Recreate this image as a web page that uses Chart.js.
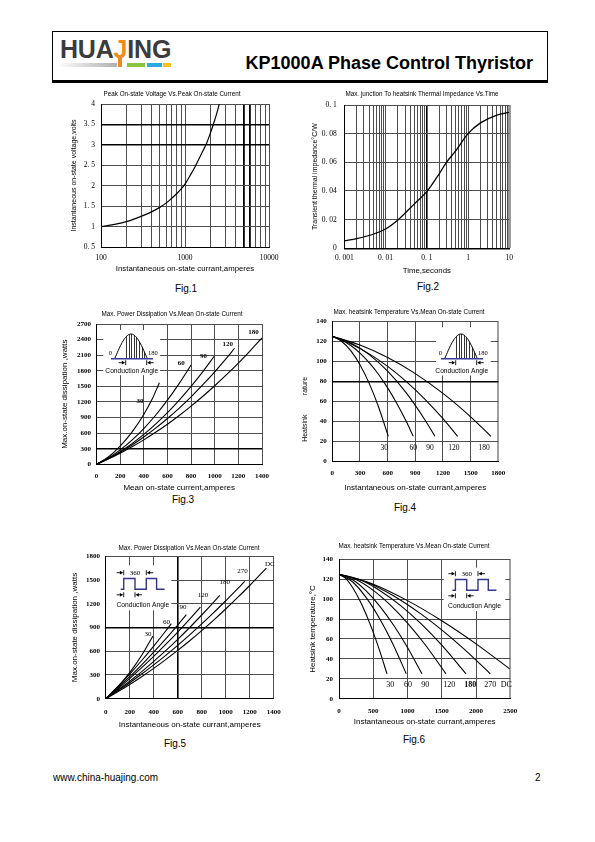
<!DOCTYPE html>
<html><head><meta charset="utf-8">
<script src="https://cdn.jsdelivr.net/npm/chart.js@4.4.1/dist/chart.umd.min.js"></script>
<style>
html,body{margin:0;padding:0;background:#fff;}
body{width:595px;height:842px;position:relative;overflow:hidden;font-family:'Liberation Sans',Arial,sans-serif;color:#000;}
.a{position:absolute;white-space:nowrap;}
canvas{position:absolute;}
.fig{position:absolute;width:60px;text-align:center;font-size:10px;line-height:10px;}
</style></head><body>
<div class="a" style="left:52px;top:31px;width:494px;height:48px;border:1px solid #000;border-bottom:3px solid #000;"></div>
<div class="a" style="left:60px;top:37px;font-weight:bold;font-size:25px;line-height:25px;color:#3b3b3b;letter-spacing:-0.2px;">HUA<span style="color:#ef8a1e">J</span>ING</div>
<div class="a" style="left:60px;top:63px;width:57px;height:4px;background:linear-gradient(to right,#fafafa,#b0b0b0);"></div>
<div class="a" style="left:118px;top:57px;width:4px;height:10px;background:#ef8a1e;"></div>
<div class="a" style="left:127px;top:63px;width:18px;height:4px;background:#8cc63e;"></div>
<div class="a" style="left:147px;top:63px;width:15px;height:4px;background:#27a9e1;"></div>
<div class="a" style="left:163px;top:63px;width:8px;height:4px;background:#f5c41c;"></div>
<div class="a" style="right:62px;top:54px;font-weight:bold;font-size:18px;line-height:18px;">KP1000A Phase Control Thyristor</div>

<div class="fig" style="left:156px;top:284px">Fig.1</div>
<div class="fig" style="left:398px;top:282px">Fig.2</div>
<div class="fig" style="left:153px;top:495px">Fig.3</div>
<div class="fig" style="left:375px;top:503px">Fig.4</div>
<div class="fig" style="left:145px;top:739px">Fig.5</div>
<div class="fig" style="left:384px;top:735px">Fig.6</div>
<div class="a" style="left:53px;top:773px;font-size:10px;line-height:10px;">www.china-huajing.com</div>
<div class="a" style="left:535px;top:773px;font-size:10px;line-height:10px;">2</div>

<script>
// ================= DATA =================
// Fig.1 Peak on-state voltage vs peak on-state current (log x)
const fig1Current = [100,150,200,300,400,500,600,700,800,900,1000,1150,1314,1550,1808,2000,2132,2350,2560];
const fig1Voltage = [1.0,1.06,1.12,1.25,1.36,1.47,1.58,1.7,1.81,1.92,2.04,2.25,2.46,2.76,3.04,3.28,3.45,3.72,4.0];
const fig1XTicks = [100,200,300,400,500,600,700,800,900,1000,2000,3000,4000,5000,6000,7000,8000,9000,10000];
const fig1XLabelAt = [100,1000,10000];
const fig1XLabels = ['100','1000','10000'];
const fig1YTicks = [0.5,1,1.5,2,2.5,3,3.5,4];
const fig1YLabels = ['0. 5','1','1. 5','2','2. 5','3','3. 5','4'];

// Fig.2 Transient thermal impedance vs time (log x)
const fig2Time = [0.001,0.002,0.005,0.01,0.02,0.05,0.1,0.2,0.3,0.5,1,2,5,10];
const fig2Z = [0.0053,0.0068,0.0098,0.0135,0.0198,0.031,0.0395,0.052,0.06,0.068,0.08,0.0875,0.093,0.0948];
const fig2XTicks = [0.001,0.002,0.003,0.004,0.005,0.006,0.007,0.008,0.009,0.01,0.02,0.03,0.04,0.05,0.06,0.07,0.08,0.09,0.1,0.2,0.3,0.4,0.5,0.6,0.7,0.8,0.9,1,2,3,4,5,6,7,8,9,10];
const fig2XLabelAt = [0.001,0.01,0.1,1,10];
const fig2XLabels = ['0. 001','0. 01','0. 1','1','10'];
const fig2YTicks = [0,0.02,0.04,0.06,0.08,0.1];
const fig2YLabels = ['0','0. 02','0. 04','0. 06','0. 08','0. 1'];

// Fig.3 Max power dissipation vs mean on-state current (sine)
const fig3X30 = [0,100,200,300,400,470,532];
const fig3Y30 = [0,140,350,620,960,1250,1570];
const fig3X60 = [0,100,200,300,400,500,600,700,800];
const fig3Y60 = [0,120,277,466,688,944,1234,1557,1910];
const fig3X90 = [0,100,200,300,400,500,600,700,800,900,996];
const fig3Y90 = [0,111,244,398,575,773,993,1236,1500,1785,2080];
const fig3X120 = [0,100,200,300,400,500,600,700,800,900,1000,1100,1168];
const fig3Y120 = [0,108,231,370,525,695,881,1082,1299,1532,1780,2044,2233];
const fig3X180 = [0,100,200,300,400,500,600,700,800,900,1000,1100,1200,1300,1400];
const fig3Y180 = [0,101,212,336,470,616,772,940,1120,1310,1512,1725,1949,2185,2432];
const fig3XTicks = [0,200,400,600,800,1000,1200,1400];
const fig3YTicks = [0,300,600,900,1200,1500,1800,2100,2400,2700];
const fig3SeriesNames = ['30','60','90','120','180'];
const fig3NameX = [368,716,905,1111,1329];
const fig3NameY = [1216,1945,2080,2303,2540];

// Fig.4 Max heatsink temperature vs current (sine)
const fig4X30 = [0,100,200,300,400,500,607];
const fig4Y30 = [125,120.1,110.6,96.5,77.9,54.8,25];
const fig4X60 = [0,100,200,300,400,500,600,700,800,878];
const fig4Y60 = [125,121.4,115.8,108.2,98.6,87,73.4,57.8,40.2,25];
const fig4X90 = [0,200,400,600,800,1000,1113];
const fig4Y90 = [125,118.3,106.7,90.1,68.6,42.1,25];
const fig4X120 = [0,200,400,600,800,1000,1200,1359];
const fig4Y120 = [125,117.5,107.4,94.9,80,62.5,42.7,25];
const fig4X180 = [0,300,600,900,1200,1500,1720];
const fig4Y180 = [125,116.2,103.8,87.7,67.9,44.5,25];
const fig4XTicks = [0,300,600,900,1200,1500,1800];
const fig4YTicks = [0,20,40,60,80,100,120,140];
const fig4SeriesNames = ['30','60','90','120','180'];
const fig4NameX = [564,878,1059,1319,1645];
const fig4NameY = [13,13,13,13,13];

// Fig.5 Max power dissipation vs current (rectangular)
const fig5X30 = [0,100,200,300,394];
const fig5Y30 = [0,150,330,550,793];
const fig5X60 = [0,100,200,300,400,500,547];
const fig5Y60 = [0,151,312,483,665,856,949];
const fig5X90 = [0,100,200,300,400,500,600,672];
const fig5Y90 = [0,135,278,429,589,756,931,1062];
const fig5X120 = [0,100,200,300,400,500,600,700,789];
const fig5Y120 = [0,123,254,392,535,686,843,1007,1159];
const fig5X180 = [0,100,200,300,400,500,600,700,800,900,950];
const fig5Y180 = [0,107,221,342,472,607,750,900,1058,1222,1307];
const fig5X270 = [0,100,200,300,400,500,600,700,800,900,1000,1100,1158];
const fig5Y270 = [0,99,202,312,428,548,675,807,945,1088,1238,1391,1484];
const fig5XDC = [0,100,200,300,400,500,600,700,800,900,1000,1100,1200,1339];
const fig5YDC = [0,87,180,278,383,494,610,732,860,994,1134,1280,1431,1652];
const fig5XTicks = [0,200,400,600,800,1000,1200,1400];
const fig5YTicks = [0,300,600,900,1200,1500,1800];
const fig5SeriesNames = ['30','60','90','120','180','270','DC'];
const fig5NameX = [353,506,644,811,992,1139,1367];
const fig5NameY = [822,970,1159,1307,1467,1614,1707];

// Fig.6 Max heatsink temperature vs current (rectangular)
const fig6X30 = [0,100,200,300,400,500,600,700];
const fig6Y30 = [125,120.6,111.5,99.2,84.1,66.6,46.8,25];
const fig6X60 = [0,200,400,600,800,982];
const fig6Y60 = [125,117.2,101.2,79.5,53,25];
const fig6X90 = [0,200,400,600,800,1000,1211];
const fig6Y90 = [125,119.4,108,92.5,73.5,51.4,25];
const fig6X120 = [0,250,500,750,1000,1250,1561];
const fig6Y120 = [125,119.7,108.8,94,76,54.9,25];
const fig6X180 = [0,300,600,900,1200,1500,1853];
const fig6Y180 = [125,119.6,108.5,93.5,75.1,53.7,25];
const fig6X270 = [0,400,800,1200,1600,2000,2208];
const fig6Y270 = [125,117.3,103.2,84.9,63.3,38.8,25];
const fig6XDC = [0,500,1000,1500,2000,2490];
const fig6YDC = [125,115,98.5,78.3,55.1,30];
const fig6XTicks = [0,500,1000,1500,2000,2500];
const fig6YTicks = [0,20,40,60,80,100,120,140];
const fig6SeriesNames = ['30','60','90','120','180','270','DC'];
const fig6NameX = [749,1007,1260,1610,1916,2208,2442];
const fig6NameY = [14,14,14,14,14,14,14];

// ================= RENDERING =================
const GRID = '#4d4d4d';
const SERIF = "'Liberation Serif','DejaVu Serif',serif";
const SANS = "'Liberation Sans',Arial,sans-serif";
Chart.defaults.color = '#000';

function pts(xs, ys){ return xs.map((x,i)=>({x:x, y:ys[i]})); }
function curve(xs, ys, w){ return {data:pts(xs,ys), borderColor:'#000', borderWidth:w||1.1, pointRadius:0, fill:false, cubicInterpolationMode:'monotone', yAxisID:'y', xAxisID:'x'}; }
function names(t, xs, ys, font){ return t.map((s,i)=>({t:s, x:xs[i], y:ys[i], font:font})); }
function logLabel(at, lab){ return v => { const k = at.findIndex(l => Math.abs(l - v) <= Math.abs(l)*1e-6); return k < 0 ? '' : lab[k]; }; }
function idxLabel(lab){ return (v,i) => lab[i]; }
function special(map, dflt){ return ctx => { const v = ctx.tick ? ctx.tick.value : null; for (const m of map){ if (v !== null && Math.abs(m[0]-v) <= Math.abs(m[0])*1e-6 + 1e-12) return m[1]; } return dflt; }; }

function arrowBar(ctx, x, y, dir){
  ctx.beginPath(); ctx.moveTo(x, y-2.5); ctx.lineTo(x, y+2.5); ctx.stroke();
  ctx.beginPath(); ctx.moveTo(x - dir*7, y); ctx.lineTo(x - dir*3, y); ctx.stroke();
  ctx.beginPath(); ctx.moveTo(x - dir*0.5, y); ctx.lineTo(x - dir*3.8, y-1.9); ctx.lineTo(x - dir*3.8, y+1.9); ctx.closePath(); ctx.fill();
}
function whiteText(ctx, t, x, y){
  const w = ctx.measureText(t).width;
  ctx.fillStyle = '#fff'; ctx.fillRect(x - w/2 - 1, y - 4.5, w + 2, 9);
  ctx.fillStyle = '#000'; ctx.fillText(t, x, y);
}
function drawSine(ctx, a, o){
  const s = a.left + o.dx, b = a.top + o.dy, w = 32, h = 24;
  ctx.strokeStyle = '#3a3a9a'; ctx.lineWidth = 1.6;
  ctx.beginPath(); ctx.moveTo(s-4, b+0.8); ctx.lineTo(s+w+6, b+0.8); ctx.stroke();
  ctx.strokeStyle = '#000'; ctx.lineWidth = 0.8;
  for (let x = Math.round(s + 11) + 0.5; x < s + w - 0.5; x += 2.6){
    const xx = Math.round(x - 0.5) + 0.5;
    const yy = b - h*Math.sin(Math.PI*(xx-s)/w);
    ctx.beginPath(); ctx.moveTo(xx, b); ctx.lineTo(xx, yy); ctx.stroke();
  }
  ctx.lineWidth = 1; ctx.beginPath();
  for (let i = 0; i <= 40; i++){ const x = s + w*i/40, yy = b - h*Math.sin(Math.PI*i/40); if (i) ctx.lineTo(x, yy); else ctx.moveTo(x, yy); }
  ctx.stroke();
  ctx.fillStyle = '#000'; ctx.font = "6.5px " + SERIF; ctx.textBaseline = 'middle';
  ctx.textAlign = 'right'; ctx.fillText('0', s - 3, b - 5);
  ctx.textAlign = 'left'; ctx.fillText('180', s + w + 1, b - 5);
  ctx.lineWidth = 0.9;
  arrowBar(ctx, s + 10.7, b + 4.7, 1); arrowBar(ctx, s + 31.7, b + 4.7, -1);
  ctx.font = "6.7px " + SANS; ctx.textAlign = 'center';
  whiteText(ctx, 'Conduction Angle', s + 16.7, b + 12.7);
}
function drawSquare(ctx, a, o){
  const s = a.left + o.dx, lo = a.top + o.dy, hi = lo - 10.8;
  const r1 = s + 7.4, f1 = s + 18.7, r2 = s + 30, f2 = s + 40.3, e = s + 48.4;
  ctx.strokeStyle = '#35358a'; ctx.lineWidth = 1.4;
  ctx.beginPath(); ctx.moveTo(r1 - 3, lo);
  [[r1,lo],[r1,hi],[f1,hi],[f1,lo],[r2,lo],[r2,hi],[f2,hi],[f2,lo],[e,lo]].forEach(p => ctx.lineTo(p[0], p[1]));
  ctx.stroke();
  ctx.strokeStyle = '#000'; ctx.fillStyle = '#000'; ctx.lineWidth = 0.9;
  arrowBar(ctx, r1, lo - 16.6, 1); arrowBar(ctx, r2, lo - 16.6, -1);
  arrowBar(ctx, r1, lo + 5.5, 1); arrowBar(ctx, f1, lo + 5.5, -1);
  ctx.font = "7px " + SERIF; ctx.textAlign = 'center'; ctx.textBaseline = 'middle';
  ctx.fillText('360', (r1 + r2)/2, lo - 16.6);
  ctx.font = "6.7px " + SANS;
  ctx.fillText('Conduction Angle', s + 26.5, lo + 16);
}
const deco = {
  id: 'deco',
  beforeDatasetsDraw(chart, args, o){
    const ctx = chart.ctx, a = chart.chartArea;
    ctx.save();
    if (o.box){ ctx.fillStyle = '#fff'; ctx.fillRect(a.left + o.box[0], a.top + o.box[1], o.box[2] - o.box[0], o.box[3] - o.box[1]); }
    if (o.inset === 'sine') drawSine(ctx, a, o);
    if (o.inset === 'square') drawSquare(ctx, a, o);
    ctx.restore();
  },
  afterDatasetsDraw(chart, args, o){
    const ctx = chart.ctx, xs = chart.scales.x, ys = chart.scales.y;
    ctx.save();
    ctx.fillStyle = '#000'; ctx.textAlign = 'center'; ctx.textBaseline = 'middle';
    (o.labels || []).forEach(l => { ctx.font = l.font; ctx.fillText(l.t, xs.getPixelForValue(l.x), ys.getPixelForValue(l.y)); });
    ctx.restore();
  }
};

function build(g){
  const lt = g.tsize*1.2, ly = g.ysize*1.2, lx = g.xsize*1.2, lk = g.ksize*1.2;
  const cl = Math.floor(Math.min(g.ytx - ly/2 - 2, g.ylabR - 26));
  const ct = Math.floor(g.ty - lt/2 - 1);
  const YW = g.pl - cl;
  const Y2W = Math.max(0, YW + 2*(g.tx - (g.pl + g.pr)/2));
  const W = Math.ceil(g.pr + Y2W + Math.max(2, 16 - Y2W) - cl);
  const RP = W - (g.pr - cl) - Y2W;
  const H = Math.ceil(g.xty + lx/2 + 2 - ct);
  const TH = g.pt - ct, XH = H - (g.pb - ct);
  const cv = document.createElement('canvas');
  cv.width = W; cv.height = H;
  cv.style.left = cl + 'px'; cv.style.top = ct + 'px'; cv.style.width = W + 'px'; cv.style.height = H + 'px';
  document.body.appendChild(cv);
  const zero = s => { s.paddingTop = 0; s.paddingBottom = 0; s.paddingLeft = 0; s.paddingRight = 0; };
  const tpt = g.ty - lt/2 - ct;
  return new Chart(cv, {
    type: 'line',
    data: {datasets: g.datasets},
    plugins: [deco],
    options: {
      responsive: false, animation: false, devicePixelRatio: 1,
      layout: {padding: {left: 0, right: RP, top: 0, bottom: 0}, autoPadding: false},
      plugins: {
        legend: {display: false}, tooltip: {enabled: false},
        title: {display: true, text: g.title, color: '#000', font: {family: SANS, size: g.tsize, weight: 'normal', lineHeight: 1.2}, padding: {top: tpt, bottom: TH - lt - tpt}},
        deco: g.deco || {}
      },
      scales: {
        x: {
          type: g.xtype, min: g.xmin, max: g.xmax,
          afterBuildTicks: s => { s.ticks = g.xticks.map(v => ({value: v})); },
          afterFit: s => { s.height = XH; zero(s); },
          grid: {color: g.xgc || GRID, lineWidth: g.xgw || 1, drawTicks: false},
          border: {color: '#000', width: g.xbw || 1},
          ticks: {autoSkip: false, maxRotation: 0, minRotation: 0, padding: g.xlabY - g.pb - lk/2, color: '#000',
                  font: {family: SERIF, size: g.ksize, weight: g.kw || 'normal', lineHeight: 1.2}, callback: g.xcb},
          title: {display: true, text: g.xtitle, color: '#000', font: {family: SANS, size: g.xsize, weight: 'normal', lineHeight: 1.2},
                  padding: {top: 0, bottom: (ct + H) - g.xty - lx/2}}
        },
        y: {
          type: 'linear', position: 'left', min: g.ymin, max: g.ymax,
          afterBuildTicks: s => { s.ticks = g.yticks.map(v => ({value: v})); },
          afterFit: s => { s.width = YW; zero(s); },
          grid: {color: g.ygc || GRID, lineWidth: g.ygw || 1, drawTicks: false},
          border: {color: '#000', width: 1},
          ticks: {autoSkip: false, padding: g.pl - g.ylabR, color: '#000',
                  font: {family: SERIF, size: g.ksize, weight: g.kw || 'normal', lineHeight: 1.2}, callback: g.ycb},
          title: {display: true, text: g.ytitle, align: g.yalign || 'center', color: '#000', font: {family: SANS, size: g.ysize, weight: 'normal', lineHeight: 1.2},
                  padding: {top: g.ytx - cl - ly/2, bottom: 0}}
        },
        yPad: {
          type: 'linear', position: 'right', display: true, min: 0, max: 1,
          grid: {display: false}, border: {display: false}, ticks: {display: false}, title: {display: false},
          afterFit: s => { s.width = Y2W; zero(s); }
        }
      }
    }
  });
}

// ---- Fig.1 ----
build({
  pl:101, pt:104, pr:269, pb:247, tx:172, ty:94, tsize:6.3, ytx:74.5, ysize:7, ylabR:95, xlabY:258.3, ksize:7.5, xty:269.3, xsize:7.8,
  title:'Peak On-state Voltage Vs.Peak On-state Current',
  xtitle:'Instantaneous on-state currant,amperes', ytitle:'Instantaneous on-state voltage,volts',
  xtype:'logarithmic', xmin:100, xmax:10000, xticks:fig1XTicks, xcb:logLabel(fig1XLabelAt, fig1XLabels),
  ymin:0.5, ymax:4, yticks:fig1YTicks, ycb:idxLabel(fig1YLabels),
  xgc: special([[5000,'#000'],[6000,'#000']], GRID), xgw: special([[5000,1.8],[6000,1.8]], 1),
  ygc: special([[3,'#000'],[3.5,'#000']], GRID), ygw: special([[3,1.6],[3.5,1.6]], 1),
  datasets:[curve(fig1Current, fig1Voltage, 1.2)]
});

// ---- Fig.2 ----
build({
  pl:344.3, pt:105, pr:509.3, pb:248.3, tx:422, ty:94.3, tsize:6.3, ytx:315, ysize:7, ylabR:336.7, xlabY:258.3, ksize:7.5, xty:271, xsize:7.8,
  title:'Max. junction To heatsink Thermal Impedance Vs.Time',
  xtitle:'Time,seconds', ytitle:'Transient thermal impedance°C/W',
  xtype:'logarithmic', xmin:0.001, xmax:10, xticks:fig2XTicks, xcb:logLabel(fig2XLabelAt, fig2XLabels),
  ymin:0, ymax:0.1, yticks:fig2YTicks, ycb:idxLabel(fig2YLabels),
  xgc: special([[0.1,'#000'],[10,'#9a9a9a']], GRID), xgw: special([[0.1,1.6],[10,3]], 1), xbw:1.5,
  datasets:[curve(fig2Time, fig2Z, 1.3)]
});

// ---- Fig.3 ----
const f3font = "bold 7px " + SERIF;
build({
  pl:96.5, pt:324, pr:262, pb:464.3, tx:172, ty:314, tsize:6.3, ytx:64.3, ysize:8, ylabR:91, xlabY:475.7, ksize:7, kw:'bold', xty:487.7, xsize:8,
  title:'Max. Power Dissipation Vs.Mean On-state Current',
  xtitle:'Mean on-state current,amperes', ytitle:'Max.on-state dissipation ,watts',
  xtype:'linear', xmin:0, xmax:1400, xticks:fig3XTicks, xcb:(v)=>String(v),
  ymin:0, ymax:2700, yticks:fig3YTicks, ycb:(v)=>String(v),
  ygc: special([[300,'#000']], GRID), ygw: special([[300,1.6]], 1),
  deco:{inset:'sine', dx:18.5, dy:34, box:[6.8,6,63.5,51], labels:names(fig3SeriesNames, fig3NameX, fig3NameY, f3font)},
  datasets:[curve(fig3X30,fig3Y30), curve(fig3X60,fig3Y60), curve(fig3X90,fig3Y90), curve(fig3X120,fig3Y120), curve(fig3X180,fig3Y180)]
});

// ---- Fig.4 ----
const f4font = "7.5px " + SERIF;
build({
  pl:332.3, pt:321.3, pr:498.3, pb:461.3, tx:409, ty:312, tsize:6.3, ytx:305, ysize:7, ylabR:326.7, xlabY:473.3, ksize:7, kw:'bold', xty:487.7, xsize:8,
  title:'Max. heatsink Temperature Vs.Mean On-state Current',
  xtitle:'Instantaneous on-state currant,amperes', ytitle:'          Heatsink          rature', yalign:'start',
  xtype:'linear', xmin:0, xmax:1800, xticks:fig4XTicks, xcb:(v)=>String(v),
  ymin:0, ymax:140, yticks:fig4YTicks, ycb:(v)=>String(v),
  xgc: special([[1800,'#a0a0a0']], GRID), xgw: special([[1800,2]], 1),
  ygc: special([[80,'#000']], GRID), ygw: special([[80,1.6]], 1),
  deco:{inset:'sine', dx:112.7, dy:36.7, box:[103.7,6,158.4,54], labels:names(fig4SeriesNames, fig4NameX, fig4NameY, f4font)},
  datasets:[curve(fig4X30,fig4Y30), curve(fig4X60,fig4Y60), curve(fig4X90,fig4Y90), curve(fig4X120,fig4Y120), curve(fig4X180,fig4Y180)]
});

// ---- Fig.5 ----
const f5font = "7px " + SERIF;
build({
  pl:105.7, pt:556.3, pr:273.7, pb:698.7, tx:189, ty:548, tsize:6.3, ytx:75, ysize:8, ylabR:100, xlabY:711.7, ksize:7, kw:'bold', xty:725, xsize:8,
  title:'Max. Power Dissipation Vs.Mean On-state Current',
  xtitle:'Instantaneous on-state currant,amperes', ytitle:'Max.on-state dissipation ,watts',
  xtype:'linear', xmin:0, xmax:1400, xticks:fig5XTicks, xcb:(v)=>String(v),
  ymin:0, ymax:1800, yticks:fig5YTicks, ycb:(v)=>String(v),
  xgc: special([[600,'#000']], GRID), xgw: special([[600,1.6]], 1),
  ygc: special([[900,'#000']], GRID), ygw: special([[900,1.6]], 1),
  deco:{inset:'square', dx:10.6, dy:33, box:[0.5,9,65.6,54], labels:names(fig5SeriesNames, fig5NameX, fig5NameY, f5font)},
  datasets:[curve(fig5X30,fig5Y30), curve(fig5X60,fig5Y60), curve(fig5X90,fig5Y90), curve(fig5X120,fig5Y120), curve(fig5X180,fig5Y180), curve(fig5X270,fig5Y270), curve(fig5XDC,fig5YDC)]
});

// ---- Fig.6 ----
const f6font = "8px " + SERIF;
const f6labels = names(fig6SeriesNames, fig6NameX, fig6NameY, f6font);
f6labels[4].font = "bold 8px " + SERIF;
build({
  pl:339, pt:559.3, pr:510.3, pb:698.7, tx:414, ty:546.7, tsize:6.3, ytx:313, ysize:8, ylabR:333, xlabY:710.7, ksize:7, kw:'bold', xty:721.7, xsize:8,
  title:'Max. heatsink Temperature Vs.Mean On-state Current',
  xtitle:'Instantaneous on-state currant,amperes', ytitle:'Heatsink temperature,°C',
  xtype:'linear', xmin:0, xmax:2500, xticks:fig6XTicks, xcb:(v)=>String(v),
  ymin:0, ymax:140, yticks:fig6YTicks, ycb:(v)=>String(v),
  xgc: special([[2500,'#a0a0a0']], GRID), xgw: special([[2500,2]], 1),
  deco:{inset:'square', dx:109, dy:31, box:[104.7,8.4,166.3,51.7], labels:f6labels},
  datasets:[curve(fig6X30,fig6Y30), curve(fig6X60,fig6Y60), curve(fig6X90,fig6Y90), curve(fig6X120,fig6Y120), curve(fig6X180,fig6Y180), curve(fig6X270,fig6Y270), curve(fig6XDC,fig6YDC)]
});
</script>
</body></html>
